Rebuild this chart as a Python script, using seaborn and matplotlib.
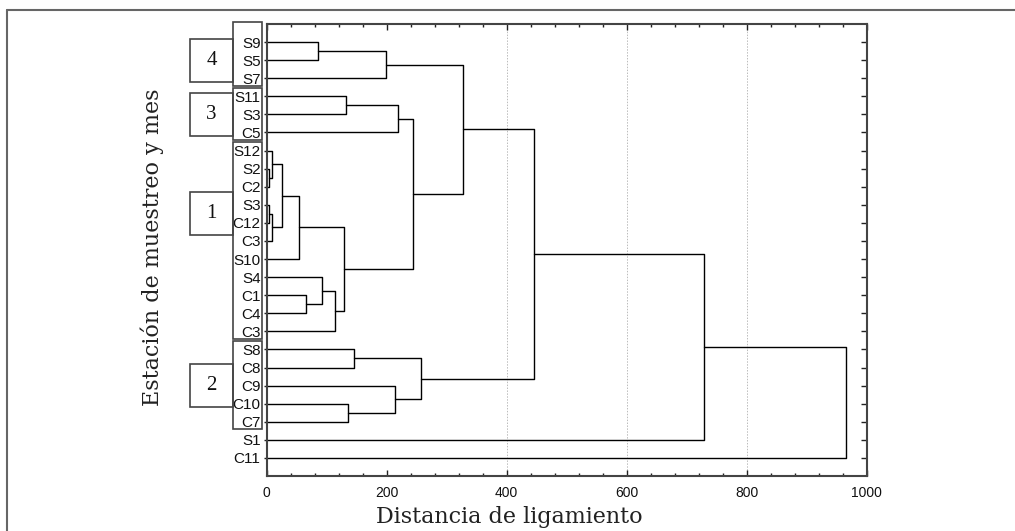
import numpy as np
import pandas as pd
import matplotlib
matplotlib.use("Agg")
import matplotlib.pyplot as plt
import matplotlib.transforms as mtransforms
from matplotlib.patches import Rectangle
from matplotlib.lines import Line2D
import seaborn as sns

# leaves, top to bottom
leaf_labels = ["S9", "S5", "S7", "S11", "S3", "C5", "S12", "S2", "C2", "S3",
               "C12", "C3", "S10", "S4", "C1", "C4", "C3", "S8", "C8", "C9",
               "C10", "C7", "S1", "C11"]

# linkage: node ids 0..23 are leaves, each merge makes node 24, 25, ...
link_left = [0, 24, 3, 26, 7, 6, 9, 30, 29, 32, 14, 13, 35, 33, 27, 25,
             17, 20, 19, 40, 39, 44, 45]
link_right = [1, 2, 4, 5, 8, 28, 10, 11, 31, 12, 15, 34, 16, 36, 37, 38,
              18, 21, 41, 42, 43, 22, 23]
link_dist = [85, 198, 132, 218, 4, 8, 4, 9, 25, 53, 65, 92, 114, 129, 244, 327,
             146, 136, 213, 257, 446, 729, 966]

# groups marked on the left: name, first leaf, last leaf
group_names = ["4", "3", "1", "2"]
group_first = [0, 3, 6, 17]
group_last = [2, 5, 16, 21]
group_mark_at = [2, 5, 10.5, 20]

x_ticks = [0, 200, 400, 600, 800, 1000]


def dendro_segments(n_leaves, left, right, dist):
    pos = {i: i + 1.0 for i in range(n_leaves)}
    height = {i: 0.0 for i in range(n_leaves)}
    rows = []
    for k, (a, b, d) in enumerate(zip(left, right, dist)):
        xs = [height[a], d, d, height[b]]
        ys = [pos[a], pos[a], pos[b], pos[b]]
        for j, (x, y) in enumerate(zip(xs, ys)):
            rows.append({"link": k, "order": j, "dist": x, "leaf": y})
        node = n_leaves + k
        pos[node] = (pos[a] + pos[b]) / 2
        height[node] = d
    return pd.DataFrame(rows)


segs = dendro_segments(len(leaf_labels), link_left, link_right, link_dist)

sns.set_theme(style="white")
plt.rcParams["font.family"] = ["Liberation Sans", "DejaVu Sans"]

fig = plt.figure(figsize=(10.15, 5.31), dpi=100)
ax = fig.add_axes([0.2628, 0.1036, 0.5911, 0.8512])

for g in [400, 600, 800]:
    ax.axvline(g, color="#bbbbbb", lw=0.7, ls=(0, (1.5, 1.5)), zorder=0)

sns.lineplot(data=segs, x="dist", y="leaf", units="link", estimator=None,
             sort=False, color="black", lw=1.0, ax=ax, legend=False)

ax.set_xlim(0, 1000)
ax.set_ylim(len(leaf_labels) + 1, 0)
ax.set_xticks(x_ticks)
ax.set_xticks(np.arange(0, 1001, 40), minor=True)
ax.set_yticks(np.arange(1, len(leaf_labels) + 1))
ax.set_yticklabels(leaf_labels)
ax.set_xlabel("")
ax.set_ylabel("")
ax.tick_params(axis="x", which="both", direction="in", top=True, bottom=True,
               labelsize=10, pad=7, color="#222222", labelcolor="#111111")
ax.tick_params(axis="x", which="major", length=4, width=1)
ax.tick_params(axis="x", which="minor", length=2.5, width=1)
ax.tick_params(axis="y", which="major", direction="out", left=True, length=2.5,
               width=1, labelsize=11, pad=2, color="#222222", labelcolor="#111111")
for s in ax.spines.values():
    s.set_visible(True)
    s.set_color("#444444")
    s.set_linewidth(1.5)

sec = ax.secondary_yaxis("right")
sec.set_yticks(np.arange(1, len(leaf_labels) + 1))
sec.tick_params(direction="in", length=4, width=1, labelright=False, color="#222222")
sec.spines["right"].set_visible(False)

# group boxes at the left of the labels
tr = mtransforms.blended_transform_factory(ax.transAxes, ax.transData)
for i, name in enumerate(group_names):
    top = group_first[i] + 1 - 0.46
    if i == 0:
        top = -0.12
    bottom = group_last[i] + 1 + 0.42
    ax.add_patch(Rectangle((-0.0567, top), 0.0484, bottom - top, transform=tr,
                           fill=False, ec="#444444", lw=1.2, clip_on=False))
    c = group_mark_at[i]
    ax.add_patch(Rectangle((-0.1278, c - 1.19), 0.0711, 2.38, transform=tr,
                           fill=False, ec="#444444", lw=1.2, clip_on=False))
    ax.text(-0.0922, c, name, transform=tr, ha="center", va="center",
            fontsize=15, family="Liberation Serif", color="#111111")

fig.text(509 / 1015, 1 - 517 / 531, "Distancia de ligamiento", ha="center",
         va="center", fontsize=16, family="DejaVu Serif", color="#222222")
fig.text(152 / 1015, 1 - 247 / 531, "Estación de muestreo y mes", ha="center",
         va="center", rotation=90, fontsize=16, family="DejaVu Serif",
         color="#222222")

# outer frame (top and left)
y0 = 1 - 10 / 531
x0 = 7 / 1015
fig.add_artist(Line2D([x0, 1], [y0, y0], transform=fig.transFigure,
                      color="#666666", lw=1.5))
fig.add_artist(Line2D([x0, x0], [0, y0], transform=fig.transFigure,
                      color="#666666", lw=1.5))

fig.savefig("out.png", dpi=100)
